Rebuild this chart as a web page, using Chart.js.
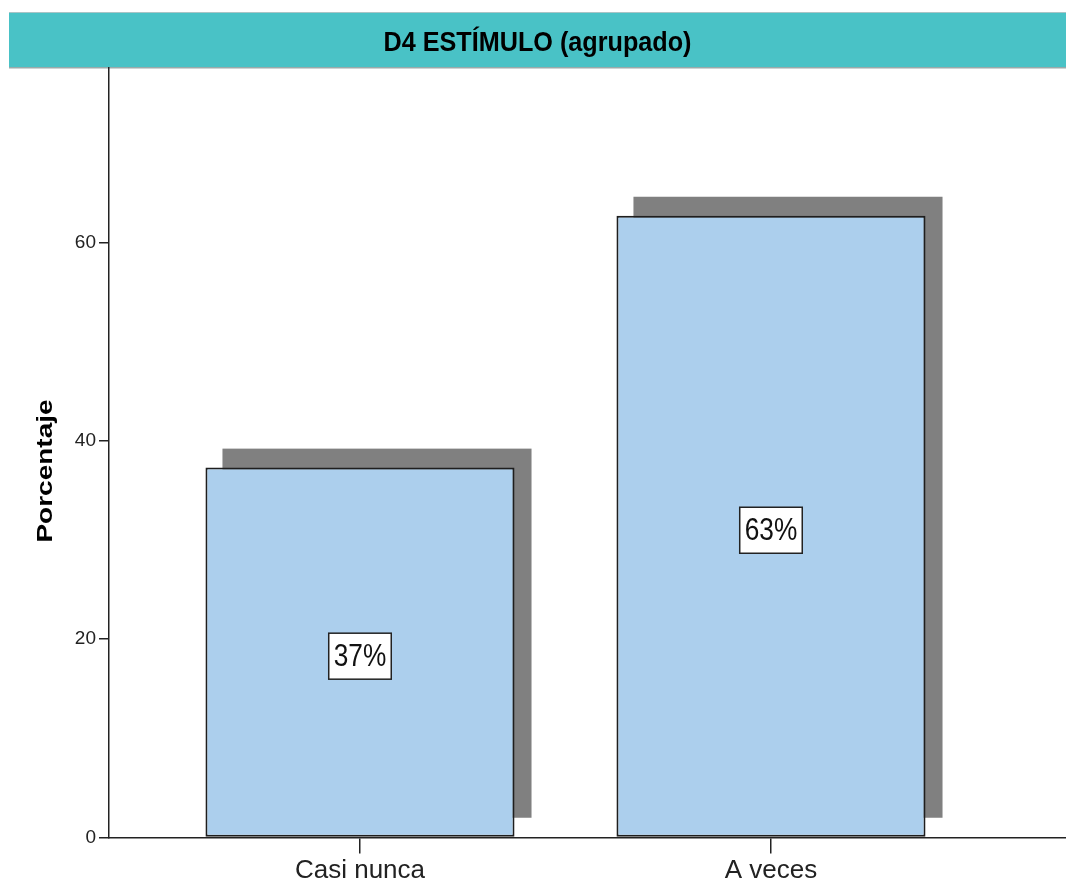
<!DOCTYPE html>
<html>
<head>
<meta charset="utf-8">
<script src="https://cdn.jsdelivr.net/npm/chart.js@4.4.1/dist/chart.umd.min.js"></script>
<style>
  html, body { margin: 0; padding: 0; background: #ffffff; }
  canvas { display: block; }
</style>
</head>
<body>
<canvas id="c" width="1066" height="885"></canvas>
<script>
// ---- data ----
const chartTitle = 'D4 ESTÍMULO (agrupado)';
const categories = ['Casi nunca', 'A veces'];
const percentages = [37.3, 62.7];
const pointLabels = ['37%', '63%'];
const yTickValues = [0, 20, 40, 60];
const yAxisTitle = 'Porcentaje';

const points = categories.map((c, i) => ({ x: i, y: percentages[i] }));

const FONT = '"Liberation Sans", Arial, sans-serif';

const titleBarPlugin = {
  id: 'titleBar',
  beforeDraw(chart) {
    const ctx = chart.ctx;
    ctx.save();
    ctx.fillStyle = '#ffffff';
    ctx.fillRect(0, 0, chart.width, chart.height);
    ctx.fillStyle = '#49c2c6';
    ctx.fillRect(9, 12, chart.width - 9, 56);
    ctx.fillStyle = '#a9c4c6';
    ctx.fillRect(9, 12, chart.width - 9, 1);
    ctx.fillStyle = '#9aa';
    ctx.fillRect(9, 67, chart.width - 9, 1.5);
    ctx.fillStyle = '#000';
    ctx.font = 'bold 28px ' + FONT;
    ctx.textAlign = 'center';
    ctx.textBaseline = 'middle';
    ctx.translate((9 + chart.width) / 2, 43);
    ctx.scale(0.9, 1);
    ctx.fillText(chartTitle, 0, 0);
    ctx.restore();
  },
  afterDraw(chart) {
    const ctx = chart.ctx;
    ctx.save();
    ctx.translate(46, 471);
    ctx.rotate(-Math.PI / 2);
    ctx.scale(1, 0.82);
    ctx.font = 'bold 28px ' + FONT;
    ctx.fillStyle = '#000';
    ctx.textAlign = 'center';
    ctx.textBaseline = 'middle';
    ctx.fillText(yAxisTitle, 0, 0);
    ctx.restore();
  }
};

const shadowPlugin = {
  id: 'barShadow',
  beforeDatasetsDraw(chart) {
    const ctx = chart.ctx;
    const meta = chart.getDatasetMeta(0);
    ctx.save();
    ctx.fillStyle = '#808080';
    meta.data.forEach(bar => {
      const p = bar.getProps(['x', 'y', 'base', 'width'], true);
      ctx.fillRect(p.x - p.width / 2 + 17, p.y - 19, p.width, p.base - p.y);
    });
    ctx.restore();
  }
};

const labelPlugin = {
  id: 'boxLabels',
  afterDatasetsDraw(chart) {
    const ctx = chart.ctx;
    const meta = chart.getDatasetMeta(0);
    ctx.save();
    const sx = 0.82;
    ctx.font = '32px ' + FONT;
    meta.data.forEach((bar, i) => {
      const p = bar.getProps(['x', 'y', 'base'], true);
      const cy = (p.y + p.base) / 2 + 4;
      const tw = ctx.measureText(pointLabels[i]).width * sx;
      const bw = tw + 10, bh = 46;
      ctx.fillStyle = '#ffffff';
      ctx.fillRect(p.x - bw / 2, cy - bh / 2, bw, bh);
      ctx.strokeStyle = '#222';
      ctx.lineWidth = 1.5;
      ctx.strokeRect(p.x - bw / 2, cy - bh / 2, bw, bh);
      ctx.save();
      ctx.translate(p.x, cy + 1);
      ctx.scale(sx, 1);
      ctx.fillStyle = '#111';
      ctx.textAlign = 'center';
      ctx.textBaseline = 'middle';
      ctx.fillText(pointLabels[i], 0, 0);
      ctx.restore();
    });
    ctx.restore();
  }
};

new Chart(document.getElementById('c'), {
  type: 'bar',
  data: {
    datasets: [{
      data: points,
      backgroundColor: '#accfed',
      borderColor: '#1e1e1e',
      borderWidth: 2,
      borderSkipped: false,
      barPercentage: 0.752,
      categoryPercentage: 1
    }]
  },
  options: {
    responsive: false,
    animation: false,
    layout: { padding: { top: 68, left: 0, right: 0, bottom: 0 } },
    plugins: { legend: { display: false }, tooltip: { enabled: false }, title: { display: false } },
    scales: {
      x: {
        type: 'linear',
        offset: false,
        min: -0.6107,
        max: 1.7178,
        afterBuildTicks(scale) { scale.ticks = categories.map((c, i) => ({ value: i })); },
        afterFit(scale) { scale.height = 47.5; },
        grid: { display: true, offset: false, drawOnChartArea: false, drawTicks: true, tickLength: 16, color: '#222', lineWidth: 1.5 },
        border: { display: true, color: '#222', width: 1.5 },
        ticks: {
          autoSkip: false,
          maxRotation: 0,
          padding: 2,
          color: '#222',
          font: { family: FONT, size: 26 },
          callback: v => categories[v]
        }
      },
      y: {
        min: 0,
        max: 77.6,
        afterBuildTicks(scale) { scale.ticks = yTickValues.map(v => ({ value: v })); },
        afterFit(scale) { scale.width = 109; },
        grid: { display: true, drawOnChartArea: false, drawTicks: true, tickLength: 10, color: '#222', lineWidth: 1.5 },
        border: { display: true, color: '#222', width: 1.5 },
        ticks: {
          padding: 3,
          color: '#222',
          font: { family: FONT, size: 19 }
        },
        title: { display: false }
      }
    }
  },
  plugins: [titleBarPlugin, shadowPlugin, labelPlugin]
});
</script>
</body>
</html>
